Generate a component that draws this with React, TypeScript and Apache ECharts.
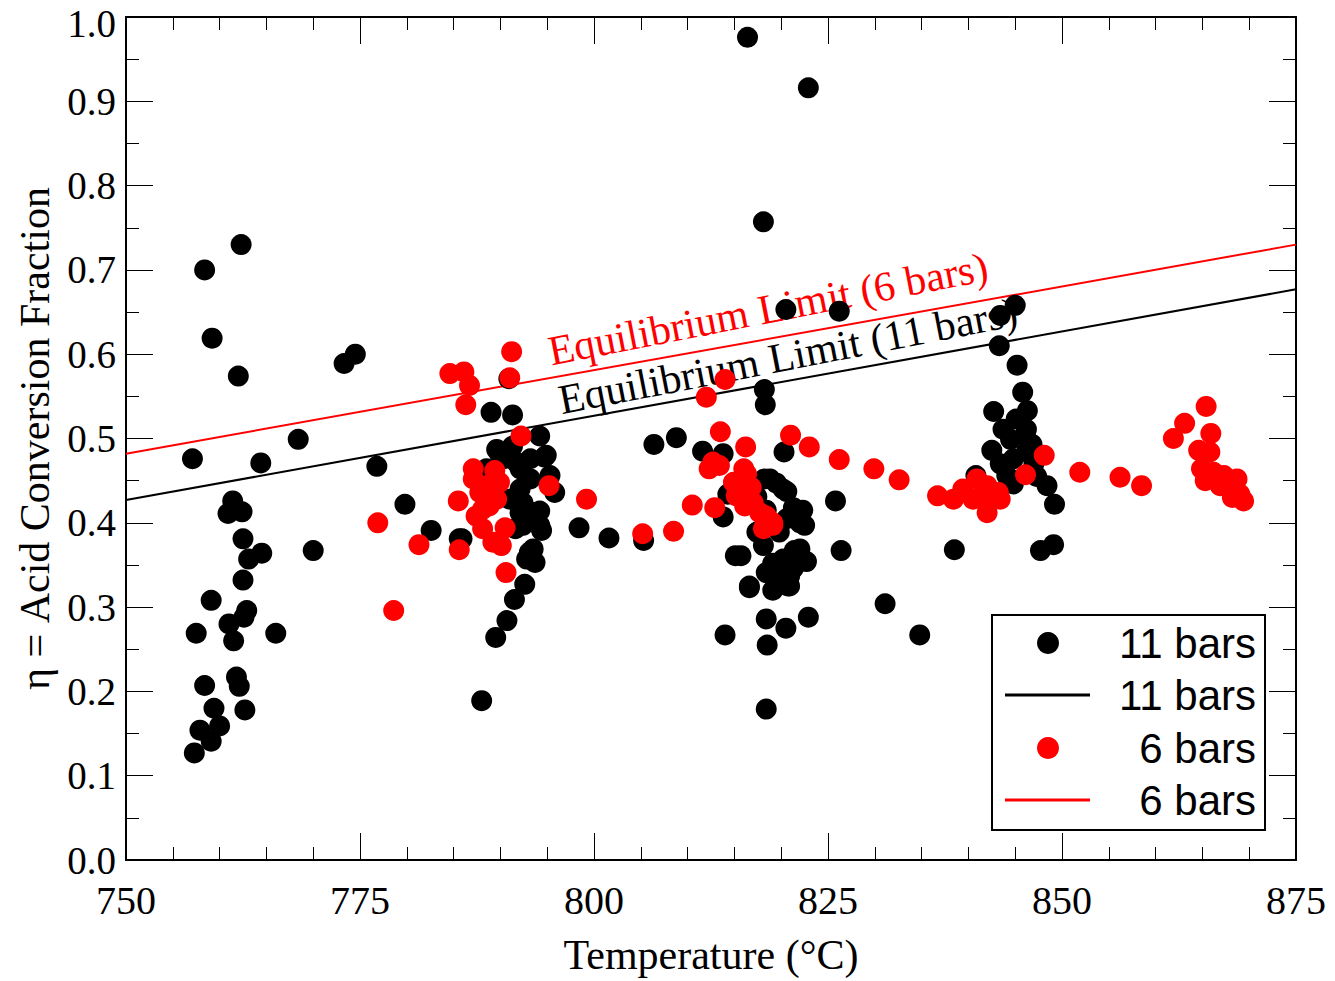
import React, { useEffect, useRef } from "react";
import * as echarts from "echarts";

// 11 bars measurements [temperature °C, acid conversion fraction]
const bars11: [number, number][] = [
  [757.1, 0.476], [758.4, 0.7], [759.2, 0.619], [762.3, 0.73], [762.0, 0.574],
  [757.5, 0.269], [759.1, 0.308], [758.4, 0.207], [759.4, 0.18], [757.9, 0.154],
  [757.3, 0.127], [759.1, 0.141], [760.0, 0.159], [761.8, 0.217], [762.1, 0.206],
  [762.7, 0.178], [761.5, 0.26], [761.0, 0.28], [762.9, 0.296], [762.6, 0.288],
  [762.5, 0.332], [763.1, 0.357], [764.5, 0.364], [762.5, 0.381], [761.4, 0.426],
  [760.9, 0.411], [762.4, 0.413], [764.4, 0.471], [766.0, 0.269],
  [768.4, 0.499], [770.0, 0.367], [773.3, 0.589], [774.5, 0.6], [776.8, 0.467],
  [779.8, 0.422], [782.6, 0.391], [785.9, 0.381],
  [788.0, 0.189], [789.5, 0.264], [790.7, 0.284], [791.5, 0.309], [792.6, 0.327],
  [792.8, 0.357], [793.7, 0.353], [793.5, 0.369], [793.1, 0.365], [792.4, 0.397],
  [794.4, 0.391], [793.0, 0.414], [794.2, 0.414], [791.6, 0.393], [791.0, 0.428],
  [792.1, 0.44], [793.2, 0.452], [795.8, 0.436], [795.3, 0.456], [792.1, 0.464],
  [793.2, 0.476], [790.4, 0.476], [794.7, 0.478], [789.9, 0.482], [791.3, 0.491],
  [794.2, 0.503], [789.0, 0.531], [791.3, 0.528], [790.9, 0.571], [788.5, 0.464],
  [789.6, 0.487], [794.9, 0.48], [791.7, 0.472], [792.4, 0.424], [793.8, 0.408],
  [792.1, 0.412], [794.2, 0.397], [785.6, 0.381],
  [798.4, 0.394], [801.6, 0.382], [805.3, 0.379], [806.4, 0.493], [808.8, 0.501],
  [811.6, 0.485], [813.8, 0.482], [814.3, 0.434], [813.8, 0.407], [815.1, 0.361],
  [815.7, 0.361], [816.6, 0.323], [814.0, 0.267], [818.4, 0.286], [818.5, 0.255],
  [818.4, 0.179], [819.1, 0.32], [820.5, 0.275], [822.9, 0.288], [820.3, 0.484],
  [825.8, 0.426], [826.4, 0.367], [818.2, 0.558], [818.3, 0.54], [818.1, 0.757],
  [816.4, 0.976], [822.9, 0.916], [820.5, 0.653], [826.2, 0.651],
  [818.2, 0.452], [819.5, 0.447], [820.6, 0.437], [821.3, 0.418], [822.3, 0.415],
  [822.5, 0.397], [819.8, 0.389], [821.4, 0.367], [822.7, 0.354], [819.1, 0.352],
  [819.8, 0.336], [820.9, 0.325], [818.4, 0.341], [817.4, 0.431], [818.4, 0.415],
  [817.4, 0.389], [821.3, 0.346], [818.8, 0.452], [820.2, 0.44], [822.0, 0.4],
  [820.6, 0.405], [818.1, 0.373], [822.0, 0.369], [820.2, 0.357], [819.1, 0.345],
  [820.9, 0.337], [816.6, 0.325], [820.7, 0.325],
  [831.1, 0.304], [834.8, 0.267], [838.5, 0.368], [840.8, 0.456],
  [845.0, 0.658], [843.4, 0.646], [843.3, 0.61], [845.2, 0.587], [845.8, 0.555],
  [846.3, 0.533], [842.7, 0.532], [843.7, 0.511], [845.1, 0.523], [846.2, 0.511],
  [844.5, 0.499], [846.1, 0.503], [846.8, 0.493], [842.5, 0.486], [843.4, 0.47],
  [844.8, 0.476], [846.2, 0.484], [844.1, 0.456], [844.8, 0.446], [848.4, 0.444],
  [849.2, 0.422], [847.7, 0.367], [849.1, 0.374], [847.0, 0.47], [847.3, 0.455],
];

// 6 bars measurements [temperature °C, acid conversion fraction]
const bars6: [number, number][] = [
  [776.9, 0.4], [778.6, 0.296], [781.3, 0.374], [784.6, 0.577], [786.1, 0.579],
  [786.7, 0.563], [786.3, 0.54], [791.2, 0.603], [791.0, 0.572], [792.2, 0.503],
  [790.6, 0.341], [795.2, 0.444], [799.2, 0.428], [785.6, 0.368],
  [787.1, 0.464], [789.9, 0.448], [785.5, 0.426], [787.8, 0.436], [788.8, 0.42],
  [787.4, 0.408], [790.5, 0.394], [788.1, 0.393], [789.2, 0.377], [790.1, 0.373],
  [788.5, 0.444], [787.1, 0.452], [789.6, 0.428], [788.1, 0.416], [789.4, 0.462],
  [805.2, 0.387], [808.5, 0.39], [810.5, 0.421], [812.0, 0.549], [814.0, 0.57],
  [812.9, 0.418], [813.5, 0.508],
  [816.2, 0.49], [821.0, 0.504], [823.0, 0.49], [826.2, 0.475], [812.7, 0.472],
  [813.4, 0.468], [812.3, 0.464], [816.0, 0.464], [816.3, 0.458], [814.9, 0.448],
  [816.8, 0.442], [815.6, 0.436], [817.0, 0.424], [816.1, 0.42], [817.7, 0.412],
  [818.4, 0.408], [819.1, 0.4], [818.1, 0.393], [815.2, 0.432], [816.6, 0.44],
  [818.2, 0.408], [819.1, 0.397],
  [829.9, 0.464], [832.6, 0.451], [836.7, 0.432], [838.4, 0.428], [839.4, 0.44],
  [840.9, 0.452], [842.0, 0.444], [843.2, 0.436], [840.5, 0.428], [841.6, 0.432],
  [843.4, 0.428], [842.0, 0.412], [846.1, 0.457], [848.1, 0.48], [851.9, 0.46],
  [856.2, 0.454], [858.5, 0.444], [861.9, 0.5], [863.1, 0.518], [865.4, 0.538],
  [865.9, 0.506], [864.6, 0.486], [865.8, 0.484], [864.9, 0.464], [866.2, 0.46],
  [867.3, 0.456], [868.7, 0.452], [865.3, 0.45], [866.9, 0.444], [868.3, 0.44],
  [869.0, 0.434], [869.4, 0.426], [868.2, 0.43],
];

// Equilibrium limit lines (endpoints at axis extremes)
const eq11: [number, number][] = [[750, 0.427], [875, 0.677]];
const eq6: [number, number][] = [[750, 0.482], [875, 0.73]];

const xTicks = { min: 750, max: 875, step: 25 };
const yTicks = { min: 0, max: 1, step: 0.1 };

const legendLabels = ["11 bars", "11 bars", "6 bars", "6 bars"];
const annoLabels = ["Equilibrium Limit (6 bars)", "Equilibrium Limit (11 bars)"];

const SERIF = '"Liberation Serif", "Times New Roman", serif';
const SANS = '"Liberation Sans", Arial, sans-serif';

export default function App() {
  const ref = useRef<HTMLDivElement>(null);
  useEffect(() => {
    if (!ref.current) return;
    const chart = echarts.init(ref.current, undefined, { renderer: "svg" });
    const tickCommon = {
      axisTick: { show: true, inside: true, length: 27, lineStyle: { color: "#000", width: 1 } },
      axisLine: { show: true, onZero: false, lineStyle: { color: "#000", width: 2 } },
      splitLine: { show: false },
    };
    const xBase = {
      type: "value",
      min: xTicks.min,
      max: xTicks.max,
      interval: xTicks.step,
      minorTick: { show: true, splitNumber: 5, length: 13, lineStyle: { color: "#000", width: 1 } },
      minorSplitLine: { show: false },
      ...tickCommon,
    };
    const yBase = {
      type: "value",
      min: yTicks.min,
      max: yTicks.max,
      interval: yTicks.step,
      minorTick: { show: true, splitNumber: 2, length: 13, lineStyle: { color: "#000", width: 1 } },
      minorSplitLine: { show: false },
      ...tickCommon,
    };
    const legendRowY = [643, 695, 748, 800];
    const legendGraphics: any[] = [
      {
        type: "rect",
        shape: { x: 992, y: 615, width: 273, height: 215 },
        style: { fill: "#fff", stroke: "#000", lineWidth: 2 },
        z: 10,
      },
      { type: "circle", shape: { cx: 1048, cy: legendRowY[0], r: 11 }, style: { fill: "#000" }, z: 11 },
      { type: "line", shape: { x1: 1005, y1: legendRowY[1], x2: 1090, y2: legendRowY[1] }, style: { stroke: "#000", lineWidth: 3 }, z: 11 },
      { type: "circle", shape: { cx: 1048, cy: legendRowY[2], r: 11 }, style: { fill: "#ff0000" }, z: 11 },
      { type: "line", shape: { x1: 1005, y1: legendRowY[3], x2: 1090, y2: legendRowY[3] }, style: { stroke: "#ff0000", lineWidth: 3 }, z: 11 },
      ...legendLabels.map((t, i) => ({
        type: "text",
        x: 1256,
        y: legendRowY[i],
        z: 11,
        style: {
          text: t,
          fill: "#000",
          fontSize: 42,
          fontFamily: SANS,
          align: "right",
          verticalAlign: "middle",
        },
      })),
    ];
    const rot = (11 * Math.PI) / 180;
    const annoGraphics: any[] = [
      {
        type: "text",
        x: 768,
        y: 309,
        rotation: rot,
        z: 1,
        style: { text: annoLabels[0], fill: "#ff0000", fontSize: 42, fontFamily: SERIF, align: "center", verticalAlign: "middle" },
      },
      {
        type: "text",
        x: 788,
        y: 356,
        rotation: rot,
        z: 1,
        style: { text: annoLabels[1], fill: "#000", fontSize: 42, fontFamily: SERIF, align: "center", verticalAlign: "middle" },
      },
    ];
    chart.setOption({
      animation: false,
      backgroundColor: "#fff",
      grid: { left: 126, right: 39, top: 17, bottom: 120, containLabel: false },
      xAxis: [
        {
          ...xBase,
          position: "bottom",
          name: "Temperature (°C)",
          nameLocation: "middle",
          nameGap: 74,
          nameTextStyle: { color: "#000", fontSize: 42, fontFamily: SERIF },
          axisLabel: { show: true, color: "#000", fontSize: 40, fontFamily: SERIF, margin: 20, formatter: (v: number) => String(v) },
        },
        { ...xBase, position: "top", axisLabel: { show: false } },
      ],
      yAxis: [
        {
          ...yBase,
          position: "left",
          name: "η = Acid Conversion Fraction",
          nameLocation: "middle",
          nameRotate: 90,
          nameGap: 70,
          nameTextStyle: { color: "#000", fontSize: 42, fontFamily: SERIF },
          axisLabel: {
            show: true,
            color: "#000",
            fontSize: 39,
            fontFamily: SERIF,
            margin: 10,
            formatter: (v: number) => (v >= yTicks.max ? `{top|${v.toFixed(1)}}` : v.toFixed(1)),
            rich: {
              top: { color: "#000", fontSize: 39, fontFamily: SERIF, padding: [12, 0, 0, 0] },
            },
          },
        },
        { ...yBase, position: "right", axisLabel: { show: false } },
      ],
      series: [
        {
          name: "11 bars line",
          type: "line",
          data: eq11,
          showSymbol: false,
          symbol: "none",
          lineStyle: { color: "#000", width: 2 },
          z: 2,
          silent: true,
        },
        {
          name: "6 bars line",
          type: "line",
          data: eq6,
          showSymbol: false,
          symbol: "none",
          lineStyle: { color: "#ff0000", width: 2 },
          z: 2,
          silent: true,
        },
        {
          name: "11 bars",
          type: "scatter",
          data: bars11,
          symbol: "circle",
          symbolSize: 21,
          itemStyle: { color: "#000", opacity: 1 },
          z: 3,
        },
        {
          name: "6 bars",
          type: "scatter",
          data: bars6,
          symbol: "circle",
          symbolSize: 21,
          itemStyle: { color: "#ff0000", opacity: 1 },
          z: 4,
        },
      ],
      graphic: { elements: [...annoGraphics, ...legendGraphics] },
    });
    return () => chart.dispose();
  }, []);
  return <div ref={ref} style={{ position: "absolute", left: 0, top: 0, width: 1335, height: 981 }} />;
}
